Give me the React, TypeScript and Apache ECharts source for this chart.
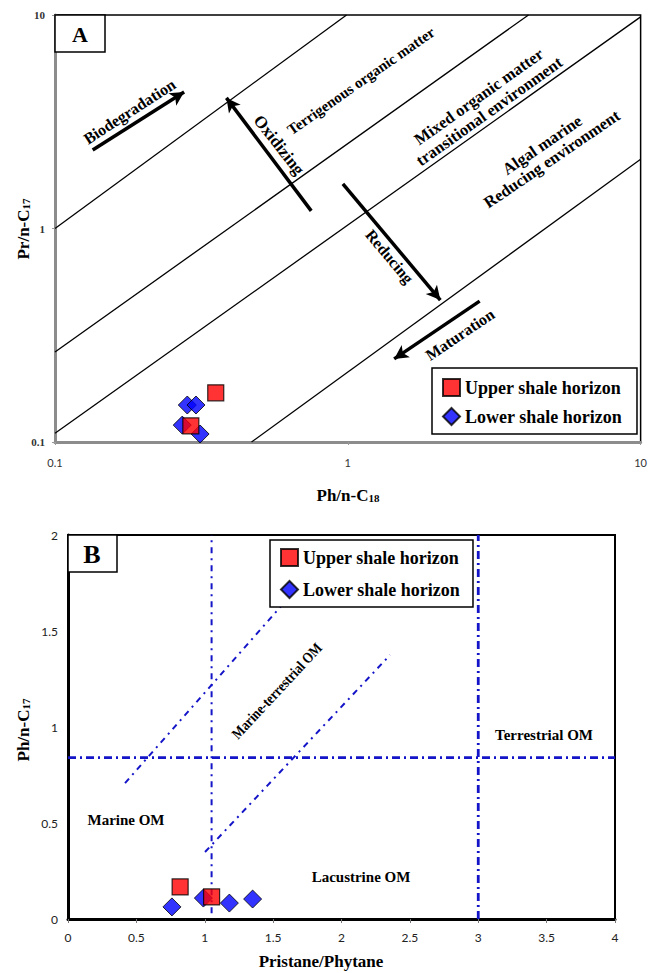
import React, { useEffect, useRef } from "react";
import * as echarts from "echarts";

// ---------- DATA ----------
// Panel A (log-log): Pr/n-C17 vs Ph/n-C18
const upperA_x = [0.354, 0.291];
const upperA_y = [0.17, 0.119];
const lowerA_x = [0.283, 0.303, 0.272, 0.313];
const lowerA_y = [0.149, 0.149, 0.12, 0.109];

// Boundary lines of panel A: [x1, y1, x2, y2]
const boundaryA = [
  [0.1, 1.0, 0.99, 10],
  [0.1, 0.264, 4.14, 10],
  [0.1, 0.11, 10, 9.8],
  [0.469, 0.1, 10, 2.11],
];
// Arrows of panel A: [xFrom, yFrom, xTo, yTo]
const arrowsA = [
  [0.1345, 2.33, 0.276, 4.36],
  [0.75, 1.21, 0.385, 4.09],
  [0.962, 1.62, 2.07, 0.462],
  [2.82, 0.457, 1.44, 0.245],
];
const ticksA = [0.1, 1, 10];

// Panel B: Ph/n-C17 vs Pristane/Phytane
const upperB_x = [0.82, 1.05];
const upperB_y = [0.167, 0.115];
const lowerB_x = [0.76, 0.99, 1.18, 1.35];
const lowerB_y = [0.063, 0.109, 0.083, 0.104];

// Boundary lines of panel B: [x1, y1, x2, y2, thick]
const boundaryB = [
  [0, 0.84, 4, 0.84, 1],
  [1.05, 0.03, 1.05, 2, 0],
  [3, 0, 3, 2, 1],
  [0.417, 0.708, 1.572, 1.641, 0],
  [1.002, 0.349, 2.355, 1.375, 0],
];

const UPPER = "Upper shale horizon";
const LOWER = "Lower shale horizon";

const SERIF_NAME = "Liberation Serif";
const bold = (px: number) => `bold ${px}px "Liberation Serif", serif`;
const deg = (d: number) => (d * Math.PI) / 180;

function zip(xs: number[], ys: number[]) {
  return xs.map((x, i) => [x, ys[i]]);
}

export default function App() {
  const ref = useRef<HTMLDivElement>(null);

  useEffect(() => {
    document.body.style.margin = "0";
    if (!ref.current) return;
    const chart = echarts.init(ref.current, undefined, { renderer: "svg" });

    const logFmt = (v: number) => (v < 1 ? v.toFixed(1) : String(Math.round(v)));

    const blueLine = "#1414c8";

    const series: any[] = [];
    boundaryA.forEach((b, i) => {
      const s: any = {
        type: "line",
        xAxisIndex: 0,
        yAxisIndex: 0,
        data: [
          [b[0], b[1]],
          [b[2], b[3]],
        ],
        symbol: "none",
        showSymbol: false,
        silent: true,
        lineStyle: { color: "#000", width: 1.3 },
        z: 1,
      };
      if (i === 0) {
        s.markLine = {
          silent: true,
          symbol: ["none", "arrow"],
          symbolSize: [11, 14],
          label: { show: false },
          lineStyle: { color: "#000", width: 3.5, type: "solid" },
          data: arrowsA.map((a) => [{ coord: [a[0], a[1]] }, { coord: [a[2], a[3]] }]),
        };
      }
      series.push(s);
    });
    boundaryB.forEach((b) => {
      series.push({
        type: "line",
        xAxisIndex: 1,
        yAxisIndex: 1,
        data: [
          [b[0], b[1]],
          [b[2], b[3]],
        ],
        symbol: "none",
        showSymbol: false,
        silent: true,
        lineStyle: {
          color: blueLine,
          width: b[4] ? 2.8 : 2,
          type: b[4] ? [8, 4, 2, 4] : [6, 5, 2, 5],
        },
        z: 1,
      });
    });

    const lowerStyle = { color: "#0000ff", borderColor: "#000", borderWidth: 1 };
    const upperStyle = { color: "#ff0000", borderColor: "#000", borderWidth: 1.2 };
    series.push(
      {
        name: LOWER,
        type: "scatter",
        xAxisIndex: 0,
        yAxisIndex: 0,
        symbol: "diamond",
        symbolSize: 18,
        itemStyle: lowerStyle,
        data: zip(lowerA_x, lowerA_y),
        z: 3,
      },
      {
        name: UPPER,
        type: "scatter",
        xAxisIndex: 0,
        yAxisIndex: 0,
        symbol: "rect",
        symbolSize: 16,
        itemStyle: upperStyle,
        data: zip(upperA_x, upperA_y),
        z: 4,
      },
      {
        name: LOWER,
        type: "scatter",
        xAxisIndex: 1,
        yAxisIndex: 1,
        symbol: "diamond",
        symbolSize: 18,
        itemStyle: lowerStyle,
        data: zip(lowerB_x, lowerB_y),
        z: 3,
      },
      {
        name: UPPER,
        type: "scatter",
        xAxisIndex: 1,
        yAxisIndex: 1,
        symbol: "rect",
        symbolSize: 16,
        itemStyle: upperStyle,
        data: zip(upperB_x, upperB_y),
        z: 4,
      }
    );

    const legendBase = {
      orient: "vertical",
      selectedMode: false,
      backgroundColor: "#fff",
      borderColor: "#000",
      borderWidth: 1.5,
      itemWidth: 17,
      itemHeight: 17,
      itemGap: 10,
      formatter: (name: string) => `{t|${name}}`,
      textStyle: {
        fontFamily: SERIF_NAME,
        fontWeight: "bold",
        fontSize: 18,
        color: "#000",
        rich: {
          t: { fontFamily: SERIF_NAME, fontWeight: "bold", fontSize: 18, color: "#000" },
        },
      },
      data: [
        { name: UPPER, icon: "rect" },
        { name: LOWER, icon: "diamond" },
      ],
      z: 6,
    };

    const txt = (
      text: string,
      x: number,
      y: number,
      size: number,
      rot = 0,
      extra: any = {},
      el: any = {}
    ) => ({
      type: "text",
      x,
      y,
      rotation: deg(rot),
      z: 20,
      silent: true,
      ...el,
      style: {
        text,
        font: bold(size),
        fill: "#000",
        textAlign: "center",
        textVerticalAlign: "middle",
        ...extra,
      },
    });

    const subRich = (main: number, sub: number) => ({
      a: { font: bold(main), fill: "#000", lineHeight: main + 4, verticalAlign: "bottom" },
      s: { font: bold(sub), fill: "#000", lineHeight: main + 1, verticalAlign: "bottom" },
    });

    const subTitle = (text: string, x: number, y: number, rot: number) => ({
      type: "text",
      x,
      y,
      rotation: deg(rot),
      z: 20,
      silent: true,
      style: {
        text,
        rich: subRich(17, 11),
        textAlign: "center",
        textVerticalAlign: "middle",
      },
    });

    const graphic: any[] = [
      // Panel A label box
      {
        type: "rect",
        shape: { x: 55, y: 15, width: 50, height: 37 },
        style: { fill: "#fff", stroke: "#000", lineWidth: 1.5 },
        z: 19,
      },
      txt("A", 80, 34, 22),
      txt("Biodegradation", 129.5, 111.5, 16, 33),
      txt("Oxidizing", 279, 145, 17, -52),
      txt("Terrigenous organic matter", 361, 81, 15, 35),
      txt("Mixed organic matter\ntransitional environment", 484, 104, 16.5, 35.5, { lineHeight: 18 }),
      txt("Algal marine\nReducing environment", 547, 152, 16.5, 34.3, { lineHeight: 17 }),
      txt("Reducing", 389.5, 256.5, 16, -50),
      txt("Maturation", 460, 334.5, 16, 34),
      // Panel A axis titles
      subTitle("{a|Pr/n-C}{s|17}", 21, 229, 90),
      subTitle("{a|Ph/n-C}{s|18}", 348, 493, 0),
      // Panel B label box
      {
        type: "rect",
        shape: { x: 68, y: 535, width: 49, height: 37 },
        style: { fill: "#fff", stroke: "#000", lineWidth: 1.5 },
        z: 19,
      },
      txt("B", 92, 554, 26),
      txt("Marine OM", 126, 820, 15),
      txt("Lacustrine OM", 361, 877, 15),
      txt("Terrestrial OM", 544, 735, 15),
      txt("Marine-terrestrial OM", 277, 691, 15, 47, {}, { scaleX: 0.85 }),
      subTitle("{a|Ph/n-C}{s|17}", 21, 730, 90),
      txt("Pristane/Phytane", 321, 961, 17),
    ];

    const option: any = {
      animation: false,
      textStyle: { fontFamily: SERIF_NAME },
      grid: [
        {
          left: 55,
          top: 15,
          width: 590,
          height: 427,
          show: true,
          borderColor: "#000",
          borderWidth: 1.5,
          backgroundColor: "transparent",
        },
        {
          left: 68,
          top: 535,
          width: 547,
          height: 384,
          show: true,
          borderColor: "#000",
          borderWidth: 2,
          backgroundColor: "transparent",
        },
      ],
      xAxis: [
        {
          type: "log",
          logBase: 10,
          gridIndex: 0,
          min: ticksA[0],
          max: ticksA[ticksA.length - 1],
          axisLine: { show: true, lineStyle: { color: "#8c8c8c", width: 3 } },
          axisTick: { show: true, length: 3, lineStyle: { color: "#999" } },
          minorTick: { show: false },
          splitLine: { show: false },
          axisLabel: {
            margin: 15,
            fontFamily: "Lato",
            fontSize: 11,
            color: "#333",
            showMinLabel: true,
            showMaxLabel: true,
            formatter: logFmt,
          },
        },
        {
          type: "value",
          gridIndex: 1,
          min: 0,
          max: 4,
          interval: 0.5,
          axisLine: { show: true, onZero: false, lineStyle: { color: "#000", width: 3 } },
          axisTick: { show: true, length: 4, lineStyle: { color: "#777" } },
          splitLine: { show: false },
          axisLabel: { margin: 12, fontFamily: "Lato", fontSize: 12, color: "#222" },
        },
      ],
      yAxis: [
        {
          type: "log",
          logBase: 10,
          gridIndex: 0,
          min: ticksA[0],
          max: ticksA[ticksA.length - 1],
          axisLine: { show: true, lineStyle: { color: "#8c8c8c", width: 3 } },
          axisTick: { show: true, length: 3, lineStyle: { color: "#999" } },
          minorTick: { show: false },
          splitLine: { show: false },
          axisLabel: {
            margin: 10,
            fontFamily: SERIF_NAME,
            fontWeight: "bold",
            fontSize: 11,
            color: "#333",
            showMinLabel: true,
            showMaxLabel: true,
            formatter: logFmt,
          },
        },
        {
          type: "value",
          gridIndex: 1,
          min: 0,
          max: 2,
          interval: 0.5,
          axisLine: { show: true, onZero: false, lineStyle: { color: "#000", width: 3 } },
          axisTick: { show: false },
          splitLine: { show: false },
          axisLabel: { margin: 10, fontFamily: "Lato", fontSize: 12, color: "#222" },
        },
      ],
      legend: [
        { ...legendBase, left: 432, top: 368, padding: [10, 15, 8, 10] },
        { ...legendBase, left: 270, top: 540, padding: [8, 13, 8, 10], itemGap: 13 },
      ],
      series,
      graphic,
    };

    chart.setOption(option);
    return () => chart.dispose();
  }, []);

  return <div ref={ref} style={{ width: 650, height: 973 }} />;
}
